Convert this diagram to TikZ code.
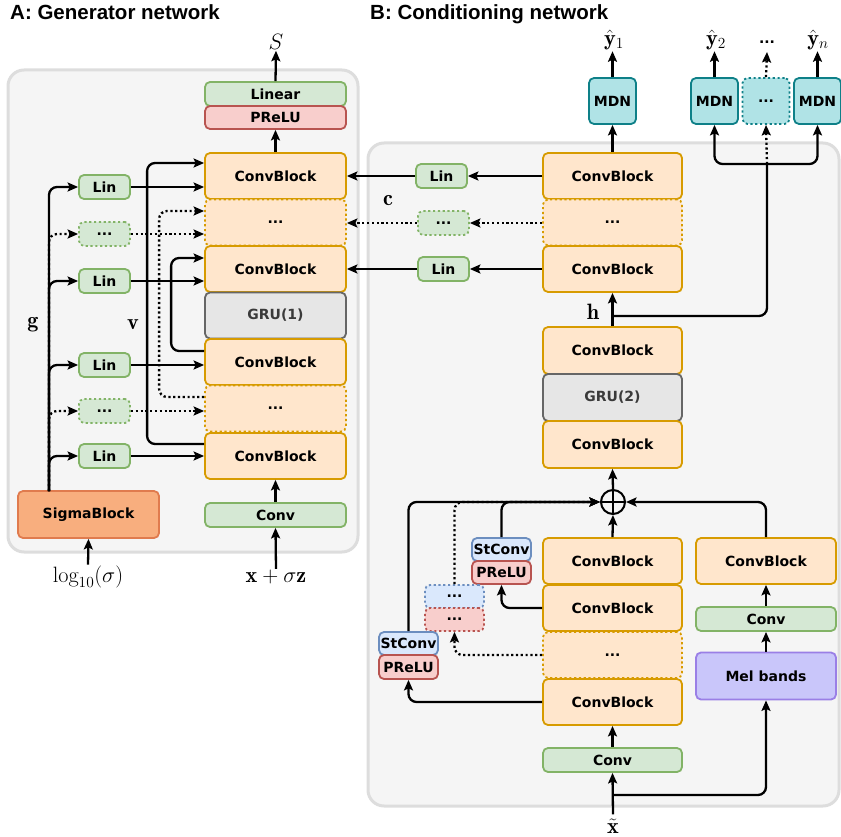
\documentclass[tikz,border=0pt]{standalone}
\usepackage{fontspec}
\usetikzlibrary{arrows.meta}
\newfontfamily\bxf{DejaVu Sans}
\newfontfamily\ttlf{Liberation Sans}
\newcommand\mybxfont{\bxf\bfseries\fontsize{14}{16}\selectfont}
\newcommand\myttlfont{\ttlf\bfseries\fontsize{20.5}{24}\selectfont}
\newcommand\mylabfont{\fontsize{20.74}{25}\selectfont}
\newcommand\mlab[1]{\scalebox{1.07}{#1}}
\definecolor{orF}{HTML}{FFE6CC}\definecolor{orD}{HTML}{D79B00}
\definecolor{grF}{HTML}{D5E8D4}\definecolor{grD}{HTML}{82B366}
\definecolor{rdF}{HTML}{F8CECC}\definecolor{rdD}{HTML}{B85450}
\definecolor{blF}{HTML}{DAE8FC}\definecolor{blD}{HTML}{6C8EBF}
\definecolor{gyF}{HTML}{E6E6E6}\definecolor{gyD}{HTML}{666666}\definecolor{gyT}{HTML}{3A3A3A}
\definecolor{tlF}{HTML}{B0E3E6}\definecolor{tlD}{HTML}{0E8088}
\definecolor{sgF}{HTML}{F8AE7E}\definecolor{sgD}{HTML}{E07B4E}
\definecolor{ppF}{HTML}{C9C6FA}\definecolor{ppD}{HTML}{9A7FE6}
\definecolor{pnF}{HTML}{F5F5F5}\definecolor{pnD}{HTML}{DDDDDD}
\tikzset{
  bx/.style={draw, line width=1.8pt, rounded corners=5pt, inner sep=0pt, font=\mybxfont, text=black},
  orange/.style={bx, fill=orF, draw=orD},
  green/.style={bx, fill=grF, draw=grD},
  red/.style={bx, fill=rdF, draw=rdD},
  blue/.style={bx, fill=blF, draw=blD},
  gray/.style={bx, fill=gyF, draw=gyD, text=gyT},
  teal/.style={bx, fill=tlF, draw=tlD},
  sigm/.style={bx, fill=sgF, draw=sgD},
  purp/.style={bx, fill=ppF, draw=ppD},
  dotl/.style={dash pattern=on 2.2pt off 2.6pt},
  wideA/.style={minimum width=141pt, minimum height=46pt},
  wideB/.style={minimum width=139pt, minimum height=46pt},
  thinA/.style={minimum width=141pt, minimum height=24pt},
  thinB/.style={minimum width=139pt, minimum height=24pt},
  linb/.style={minimum width=51pt, minimum height=24pt},
  stb/.style={minimum width=59pt, minimum height=23pt},
  mdnb/.style={minimum width=47pt, minimum height=46pt},
  arr/.style={line width=2.3pt, -{Stealth[length=10.5pt,width=9pt,inset=2pt]}},
  ln/.style={line width=2.3pt},
  rc/.style={rounded corners=8pt},
  lab/.style={font=\mylabfont, inner sep=1pt},
  panel/.style={fill=pnF, draw=pnD, line width=3pt, rounded corners=16pt},
}
\begin{document}
\begin{tikzpicture}[x=1pt,y=-1pt]
\useasboundingbox (0,0) rectangle (841,837);
% panels
\draw[panel] (8,70) rectangle (358,552);
\draw[panel] (368,143) rectangle (839,806);
% titles
\node[font=\myttlfont, anchor=base west, inner sep=0pt] (ttlA) at (10,20) {A: Generator network};
\node[font=\myttlfont, anchor=base west, inner sep=0pt] (ttlB) at (370,20) {B: Conditioning network};

% ---------- Panel A ----------
\node[green, thinA] (linA) at (275.5,94) {Linear};
\node[red, thinA, minimum height=23pt] (preA) at (275.5,117.5) {PReLU};
\node[orange, wideA] (cbA1) at (275.5,176) {ConvBlock};
\node[orange, wideA, dotl] (dA1) at (275.5,222.5) {...};
\node[orange, wideA] (cbA2) at (275.5,269) {ConvBlock};
\node[gray, wideA] (gruA) at (275.5,315.5) {GRU(1)};
\node[orange, wideA] (cbA3) at (275.5,362) {ConvBlock};
\node[orange, wideA, dotl] (dA2) at (275.5,408.5) {...};
\node[orange, wideA] (cbA4) at (275.5,456) {ConvBlock};
\node[green, thinA] (convA) at (275.5,515) {Conv};
\node[sigm, minimum width=141pt, minimum height=47pt] (sigma) at (88.5,514.5) {SigmaBlock};

\node[green, linb] (linA1) at (104.5,187) {Lin};
\node[green, linb, dotl] (dlA1) at (104.5,234) {...};
\node[green, linb] (linA2) at (104.5,281) {Lin};
\node[green, linb] (linA3) at (104.5,365) {Lin};
\node[green, linb, dotl] (dlA2) at (104.5,411) {...};
\node[green, linb] (linA4) at (104.5,456) {Lin};

\node[lab] (S) at (276,42) {\mlab{$S$}};
\node[lab] (logs) at (88,577) {\mlab{$\log_{10}(\sigma)$}};
\node[lab] (xsz) at (276,577) {\mlab{$\mathbf{x}+\sigma\mathbf{z}$}};
\node[lab] (g) at (33,325) {\mlab{$\mathbf{g}$}};
\node[lab] (v) at (133,325) {\mlab{$\mathbf{v}$}};

\draw[arr] (linA.north) -- (S.south);
\draw[arr] (cbA1.north) -- (preA.south);
\draw[arr] (convA.north) -- (cbA4.south);
\draw[arr] (xsz.north) -- (convA.south);
\draw[arr] (logs.north) -- (sigma.south);

\coordinate (g0) at (49,491);
\draw[arr,rc] (g0) |- (linA1.west);
\draw[arr,rc] (g0) |- (linA2.west);
\draw[arr,rc] (g0) |- (linA3.west);
\draw[arr,rc] (g0) |- (linA4.west);
\draw[arr,rc,dotl] (g0) |- (dlA1.west);
\draw[arr,rc,dotl] (g0) |- (dlA2.west);

\draw[arr] (linA1.east) -- (linA1.east -| cbA1.west);
\draw[arr,dotl] (dlA1.east) -- (dlA1.east -| dA1.west);
\draw[arr] (linA2.east) -- (linA2.east -| cbA2.west);
\draw[arr] (linA3.east) -- (linA3.east -| cbA3.west);
\draw[arr,dotl] (dlA2.east) -- (dlA2.east -| dA2.west);
\draw[arr] (linA4.east) -- (linA4.east -| cbA4.west);

\draw[arr,rc] ([yshift=12pt]cbA4.west) -- ++(-57,0) |- ([yshift=13pt]cbA1.west);
\draw[arr,rc] ([yshift=11pt]cbA3.west) -- ++(-33,0) |- ([yshift=11pt]cbA2.west);
\draw[arr,rc,dotl] ([yshift=11.5pt]dA2.west) -- ++(-45,0) |- ([yshift=11.5pt]dA1.west);

% ---------- Panel B ----------
\node[orange, wideB] (cbB1) at (612.5,176) {ConvBlock};
\node[orange, wideB, dotl] (dB1) at (612.5,222.5) {...};
\node[orange, wideB] (cbB2) at (612.5,269) {ConvBlock};
\node[orange, wideB, minimum height=47pt] (cbB3) at (612.5,350.5) {ConvBlock};
\node[gray, wideB, minimum height=47pt] (gruB) at (612.5,397.5) {GRU(2)};
\node[orange, wideB, minimum height=47pt] (cbB4) at (612.5,444.5) {ConvBlock};
\node[circle, draw, line width=2pt, minimum size=24pt, inner sep=0pt] (plus) at (613,502) {};
\draw[line width=2pt] (plus.north) -- (plus.south) (plus.west) -- (plus.east);
\node[orange, wideB] (cbB5) at (612.5,561) {ConvBlock};
\node[orange, wideB] (cbB6) at (612.5,608) {ConvBlock};
\node[orange, wideB, dotl] (dB2) at (612.5,655) {...};
\node[orange, wideB] (cbB7) at (612.5,702) {ConvBlock};
\node[green, thinB] (convB) at (612.5,760) {Conv};

\node[orange, minimum width=140pt, minimum height=46pt] (cbR) at (766,561) {ConvBlock};
\node[green, minimum width=140pt, minimum height=24pt] (convR) at (766,619) {Conv};
\node[purp, minimum width=140pt, minimum height=47pt] (mel) at (766,676) {Mel bands};

\node[green, linb] (linB1) at (441.5,176) {Lin};
\node[green, linb, dotl] (dlB) at (443.5,223) {...};
\node[green, linb] (linB2) at (443.5,269) {Lin};

\node[blue, stb] (stc1) at (501.5,549.5) {StConv};
\node[red, stb] (pre1) at (501.5,572.5) {PReLU};
\node[blue, stb, dotl] (db1) at (454.5,596.5) {...};
\node[red, stb, dotl] (dr1) at (454.5,619.5) {...};
\node[blue, stb] (stc2) at (408.5,643.5) {StConv};
\node[red, stb, minimum height=24pt] (pre2) at (408.5,667) {PReLU};

\node[teal, mdnb] (mdn1) at (612.5,101) {MDN};
\node[teal, mdnb] (mdn2) at (714.5,101) {MDN};
\node[teal, mdnb, dotl] (mdnd) at (766,101) {...};
\node[teal, mdnb] (mdnn) at (817.5,101) {MDN};

\node[lab] (y1) at (614,40) {\mlab{$\hat{\mathbf{y}}_1$}};
\node[lab] (y2) at (716,40) {\mlab{$\hat{\mathbf{y}}_2$}};
\node[lab] (yn) at (818,40) {\mlab{$\hat{\mathbf{y}}_n$}};
\node[font=\mybxfont, anchor=base, inner sep=0pt] (ydots) at (767,44) {...};
\node[lab] (c) at (388,201) {\mlab{$\mathbf{c}$}};
\node[lab] (h) at (593,312) {\mlab{$\mathbf{h}$}};
\node[lab] (xt) at (613,826) {\mlab{$\tilde{\mathbf{x}}$}};

\draw[arr] (mdn1.north) -- (mdn1.north |- y1.south);
\draw[arr] (mdn2.north) -- (mdn2.north |- y2.south);
\draw[arr] (mdnn.north) -- (mdnn.north |- yn.south);
\draw[arr,dotl] (mdnd.north) -- ([yshift=-8pt]ydots.base);
\draw[arr] (cbB1.north) -- (mdn1.south);

\draw[arr] (cbB1.west) -- (linB1.east);
\draw[arr,dotl] (dB1.west |- dlB.east) -- (dlB.east);
\draw[arr] (cbB2.west) -- (linB2.east);
\draw[arr] (linB1.west) -- (linB1.west -| cbA1.east);
\draw[arr,dotl] (dlB.west) -- (dlB.west -| dA1.east);
\draw[arr] (linB2.west) -- (linB2.west -| cbA2.east);

\draw[arr] (cbB3.north) -- (cbB2.south);
\coordinate (hb) at (613,316);
\coordinate (split) at (767,164);
\draw[ln,rc] (hb) -| (split);
\draw[arr,rc] (split) -| (mdn2.south);
\draw[arr,rc] (split) -| (mdnn.south);
\draw[arr,dotl] (split) -- (mdnd.south);

\draw[arr] (plus.north) -- (cbB4.south);
\draw[arr] (cbB5.north) -- (plus.south);
\draw[arr] (convB.north) -- (cbB7.south);
\draw[arr] ([yshift=3pt]xt.north) -- (convB.south);
\coordinate (xb) at (613,795);
\draw[arr,rc] (xb) -| (mel.south);
\draw[arr] (mel.north) -- (convR.south);
\draw[arr] (convR.north) -- (cbR.south);
\draw[arr,rc] (cbR.north) |- (plus.east);

\draw[arr,rc] (cbB7.west) -| (pre2.south);
\draw[arr,rc] (cbB6.west) -| (pre1.south);
\draw[arr,rc,dotl] (dB2.west) -| (dr1.south);
\draw[arr,rc] (stc2.north) |- (plus.west);
\draw[arr,rc] (stc1.north) |- (plus.west);
\draw[arr,rc,dotl] (db1.north) |- (plus.west);
\end{tikzpicture}
\end{document}
